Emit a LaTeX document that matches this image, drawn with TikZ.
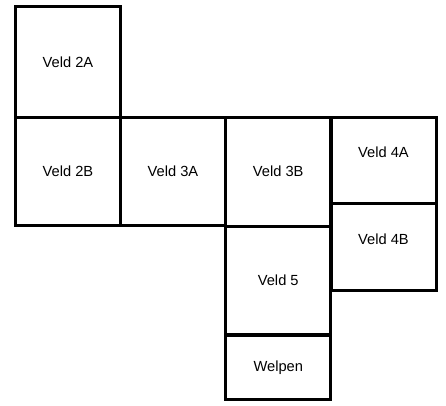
\documentclass[tikz,border=0pt]{standalone}
\usepackage{fontspec}
\setmainfont{Liberation Sans}
\usepackage{tikz}

\begin{document}
\begin{tikzpicture}[x=0.75pt, y=-0.75pt]
        \tikzstyle{every node}=[font=\fontsize{11}{13}\selectfont]
        \tikzstyle{veld}=[draw, rectangle, line width=2.25pt, inner sep=0pt, minimum width=78.75pt]
        \useasboundingbox (0,0) rectangle (446,406);
        \node [veld, minimum height=82.9pt] (v2a) at (68,62.25) {Veld 2A};
        \node [veld, minimum height=81pt] (v2b) at (68,171.5) {Veld 2B};
        \node [veld, minimum height=81pt] (v3a) at (173,171.5) {Veld 3A};
        \node [veld, minimum height=81.4pt] (v3b) at (278.25,171.75) {Veld 3B};
        \node [veld, minimum height=64.5pt, label={[anchor=center, yshift=-27pt]north:Veld 4A}] (v4a) at (383.5,160.5) {};
        \node [veld, minimum height=65.6pt, label={[anchor=center, yshift=-28pt]north:Veld 4B}] (v4b) at (383.5,247.25) {};
        \node [veld, minimum height=81.75pt] (v5) at (278.25,280.5) {Veld 5};
        \node [veld, minimum height=48.4pt] (welpen) at (278.25,367.25) {Welpen};
    \end{tikzpicture}
\end{document}
